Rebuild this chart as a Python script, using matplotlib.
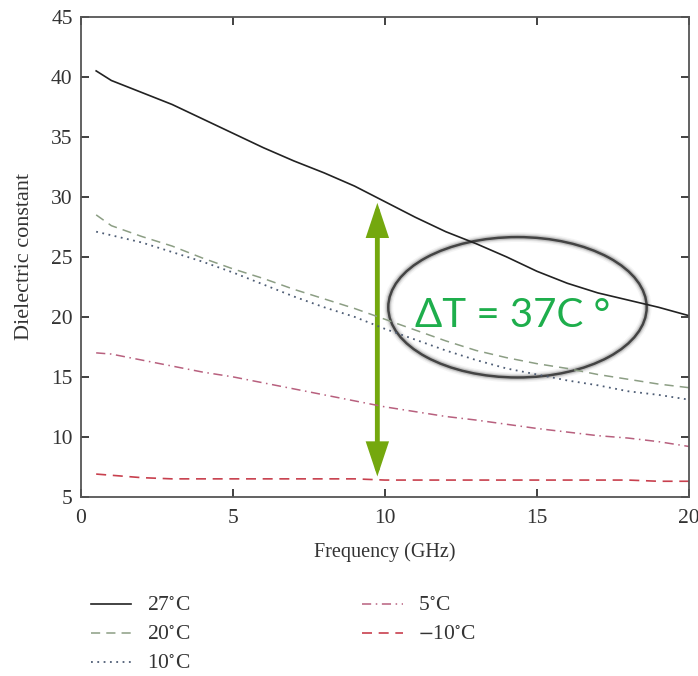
import matplotlib; matplotlib.use("Agg")
import matplotlib.pyplot as plt
from matplotlib.patches import Ellipse, FancyArrowPatch

freq = [0.5, 1, 2, 3, 4, 5, 6, 7, 8, 9, 10, 11, 12, 13, 14, 15, 16, 17, 18, 19, 20]
eps_27 = [40.5, 39.7, 38.7, 37.7, 36.5, 35.3, 34.1, 33.0, 32.0, 30.9, 29.6, 28.3, 27.1, 26.1, 25.0, 23.8, 22.8, 22.0, 21.4, 20.8, 20.1]
eps_20 = [28.5, 27.6, 26.7, 25.9, 24.9, 24.0, 23.2, 22.3, 21.5, 20.7, 19.8, 18.9, 18.0, 17.2, 16.6, 16.1, 15.7, 15.2, 14.8, 14.4, 14.1]
eps_10 = [27.1, 26.8, 26.2, 25.4, 24.6, 23.7, 22.7, 21.7, 20.8, 20.0, 19.0, 18.1, 17.2, 16.4, 15.7, 15.2, 14.7, 14.3, 13.8, 13.5, 13.1]
eps_5 = [17.0, 16.9, 16.4, 15.9, 15.4, 15.0, 14.5, 14.0, 13.5, 13.0, 12.5, 12.1, 11.7, 11.4, 11.05, 10.7, 10.4, 10.1, 9.9, 9.6, 9.2]
eps_m10 = [6.9, 6.8, 6.6, 6.5, 6.5, 6.5, 6.5, 6.5, 6.5, 6.5, 6.4, 6.4, 6.4, 6.4, 6.4, 6.4, 6.4, 6.4, 6.4, 6.3, 6.3]
labels = ["27$^{\\circ}$C", "20$^{\\circ}$C", "10$^{\\circ}$C", "5$^{\\circ}$C", "$-$10$^{\\circ}$C"]
arrow_f, arrow_top, arrow_bot = 9.75, 29.5, 6.7
note = "ΔT = 37C °"

plt.rcParams["font.family"] = ["Liberation Serif", "DejaVu Serif"]
plt.rcParams["mathtext.fontset"] = "stix"
fig = plt.figure(figsize=(6.98, 6.76), dpi=100)
ax = fig.add_axes([0.116, 0.265, 0.871, 0.71])

styles = [("#222222", "-", 1.2), ("#8c9e84", (0, (6, 4)), 1.1), ("#4e5d75", (0, (1, 2.5)), 1.3),
          ("#b8607e", (0, (6, 3, 1, 3)), 1.1), ("#c8404e", (0, (6, 4)), 1.2)]
for ys, lab, (c, ls, lw) in zip([eps_27, eps_20, eps_10, eps_5, eps_m10], labels, styles):
    ax.plot(freq, ys, color=c, ls=ls, lw=lw, label=lab)

ax.set_xlim(0, 20); ax.set_ylim(5, 45)
ax.set_xticks([0, 5, 10, 15, 20]); ax.set_yticks(range(5, 46, 5))
ax.tick_params(direction="in", length=6, width=1.3, top=True, right=True, labelsize=15.5, colors="#333333")
ax.tick_params(axis="x", pad=9); ax.tick_params(axis="y", pad=6)
for s in ax.spines.values():
    s.set_linewidth(1.3); s.set_color("#555555")
ax.set_xlabel("Frequency (GHz)", fontsize=14.5, color="#333333", labelpad=10)
ax.set_ylabel("Dielectric constant", fontsize=16, color="#333333", labelpad=12)

# glowing ellipse + annotation
for lw, a in [(7, 0.08), (5, 0.15), (3.5, 0.3)]:
    ax.add_patch(Ellipse((14.36, 20.8), 8.5, 11.7, fill=False, ec="#777777", lw=lw, alpha=a))
ax.add_patch(Ellipse((14.36, 20.8), 8.5, 11.7, fill=False, ec="#444444", lw=1.8))
ax.add_patch(FancyArrowPatch((arrow_f, arrow_bot), (arrow_f, arrow_top),
                             arrowstyle="<|-|>,head_length=0.9,head_width=0.3", mutation_scale=20,
                             lw=3.5, color="#74a80e", shrinkA=0, shrinkB=0, joinstyle="miter"))
ax.text(14.2, 20.1, note, fontsize=29, color="#1eae4c", ha="center", va="center", family=["Lato", "DejaVu Sans"])

fig.legend(loc="upper left", bbox_to_anchor=(0.102, 0.147), ncol=2, frameon=False, fontsize=15.5,
           handlelength=1.9, handletextpad=0.7, labelspacing=0.42, columnspacing=8.0, labelcolor="#333333")
fig.savefig("out.png", dpi=100)
